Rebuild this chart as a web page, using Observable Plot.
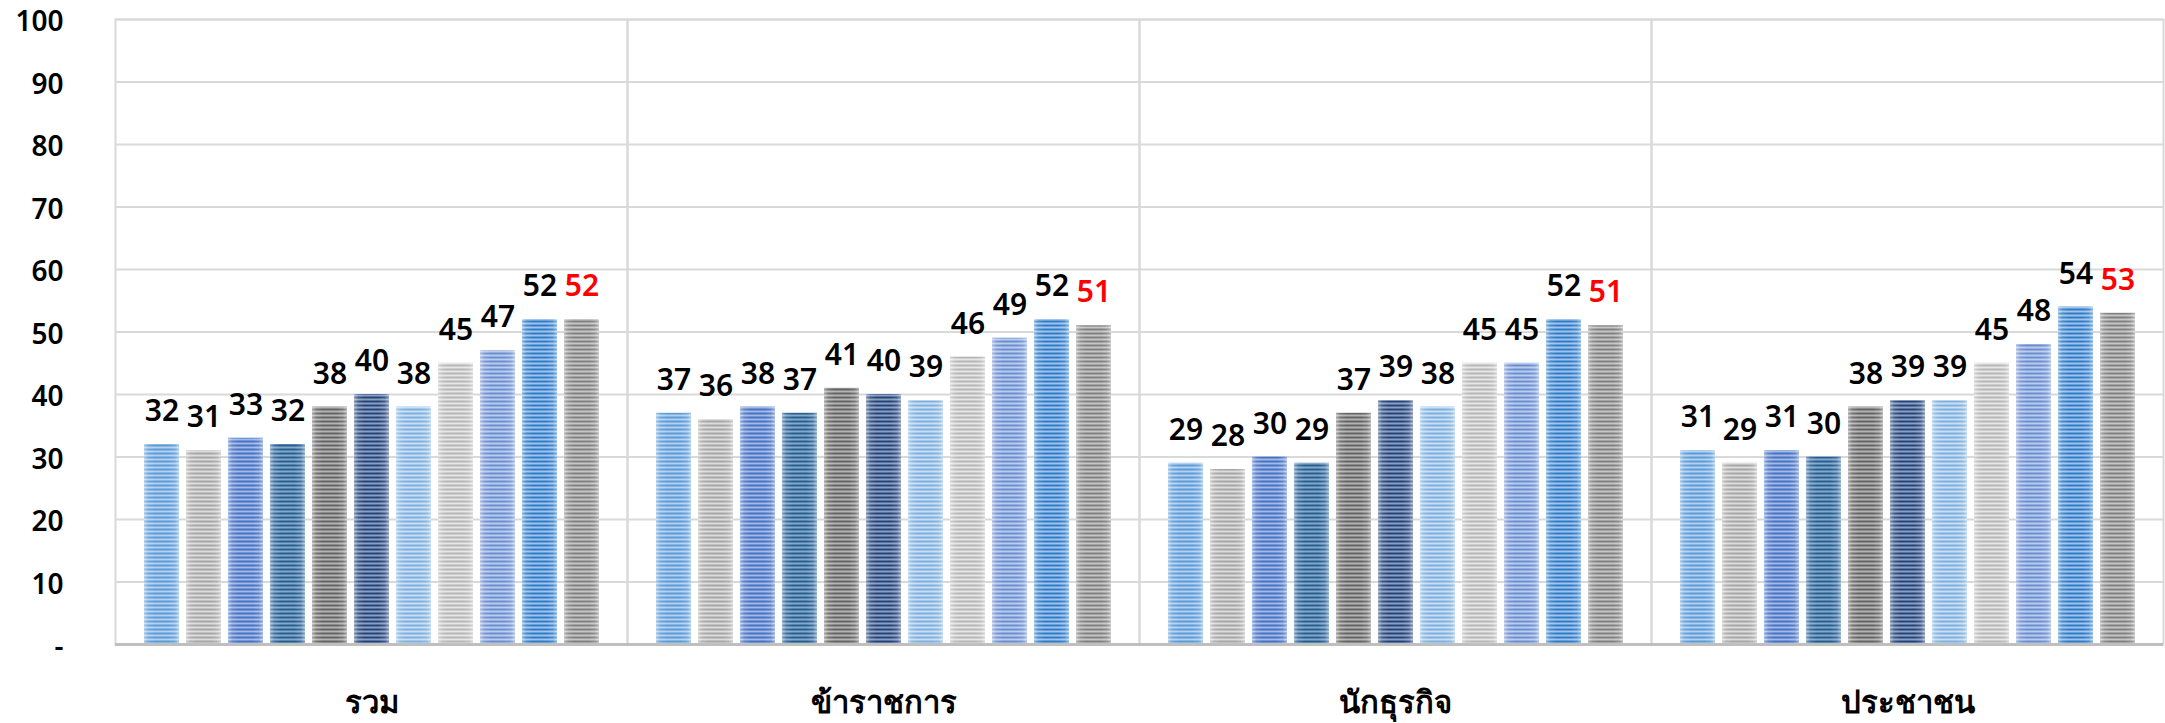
<!DOCTYPE html>
<html>
<head>
<meta charset="utf-8">
<script src="https://cdn.jsdelivr.net/npm/d3@7"></script>
<script src="https://cdn.jsdelivr.net/npm/@observablehq/plot@0.6"></script>
<style>
  html, body { margin: 0; padding: 0; background: #fff; }
  #chart { width: 2165px; height: 723px; overflow: hidden; }
  svg { font-family: "Noto Sans", "Open Sans", sans-serif; }
</style>
</head>
<body>
<div id="chart"></div>
<script>
// ---- data ----
const categories = ["รวม", "ข้าราชการ", "นักธุรกิจ", "ประชาชน"];
const seriesIndex = [0, 1, 2, 3, 4, 5, 6, 7, 8, 9, 10];
const valuesTotal       = [32, 31, 33, 32, 38, 40, 38, 45, 47, 52, 52];
const valuesOfficials   = [37, 36, 38, 37, 41, 40, 39, 46, 49, 52, 51];
const valuesBusiness    = [29, 28, 30, 29, 37, 39, 38, 45, 45, 52, 51];
const valuesPublic      = [31, 29, 31, 30, 38, 39, 39, 45, 48, 54, 53];
const yTicks = [0, 10, 20, 30, 40, 50, 60, 70, 80, 90, 100];

// stripe colours per series: [dark stripe, light stripe]
const stripeDark  = ["#5b9bd5", "#a5a5a5", "#4472c4", "#255e91", "#636363", "#264478", "#7cafdd", "#b5b5b5", "#698ed0", "#2f7bc6", "#7f7f7f"];
const stripeLight = ["#b3d1ee", "#dcdcdc", "#a3b8e4", "#86a9cb", "#b4b4b4", "#8b9fc4", "#c8def2", "#e6e6e6", "#bccbeb", "#9fc4ec", "#c6c6c6"];

const allValues = [valuesTotal, valuesOfficials, valuesBusiness, valuesPublic];
const data = [];
categories.forEach((c, ci) => {
  seriesIndex.forEach((s) => data.push({cat: c, s, v: allValues[ci][s]}));
});

const W = 2165, H = 723;
const fontMain = "'Noto Sans', 'Open Sans', sans-serif";

const chart = Plot.plot({
  width: W,
  height: H,
  marginLeft: 115,
  marginRight: 2,
  marginTop: 19,
  marginBottom: 79,
  style: {fontFamily: fontMain, background: "#fff"},
  fx: {domain: categories, padding: 0, label: null},
  x: {domain: seriesIndex, paddingInner: 0.17, paddingOuter: 0.68, axis: null},
  y: {domain: [0, 100], label: null},
  color: {type: "ordinal", domain: seriesIndex, range: seriesIndex.map(i => `url(#stripe${i})`)},
  marks: [
    Plot.gridY(yTicks.slice(1), {stroke: "#d9d9d9", strokeOpacity: 1, strokeWidth: 2}),
    Plot.frame({stroke: "#d9d9d9", strokeWidth: 2}),
    Plot.barY(data, {fx: "cat", x: "s", y: "v", fill: "s"}),
    Plot.barY(data, {fx: "cat", x: "s", y: "v", fill: "url(#edgeGlow)"}),
    Plot.ruleY([0], {stroke: "#bfbfbf", strokeWidth: 3}),
    Plot.text(data, {filter: d => d.s < 10, fx: "cat", x: "s", y: "v", text: d => String(d.v), dy: -33, fill: "#000", fontSize: 30, fontWeight: 600}),
    Plot.text(data, {filter: d => d.s === 10, fx: "cat", x: "s", y: "v", text: d => String(d.v), dy: -33, fill: "#ff0000", fontSize: 30, fontWeight: 600}),
    Plot.axisY({ticks: yTicks, tickFormat: d => d === 0 ? "-" : String(d), tickSize: 0, tickPadding: 52, fontSize: 28, fontWeight: 600, dy: 3, label: null}),
    Plot.axisFx({anchor: "bottom", tickSize: 0, tickPadding: 46, fontSize: 31, fontWeight: 700, label: null})
  ]
});

// pattern definitions
const svg = d3.select(chart);
const defs = svg.insert("defs", ":first-child");
seriesIndex.forEach(i => {
  const p = defs.append("pattern")
    .attr("id", `stripe${i}`)
    .attr("patternUnits", "userSpaceOnUse")
    .attr("width", 8).attr("height", 4)
    .attr("y", 0.5);
  p.append("rect").attr("width", 8).attr("height", 4).attr("fill", stripeLight[i]);
  p.append("rect").attr("width", 8).attr("height", 2).attr("fill", stripeDark[i]);
});
const g = defs.append("linearGradient").attr("id", "edgeGlow")
  .attr("x1", "0").attr("x2", "1").attr("y1", "0").attr("y2", "0");
[[0, 0.45], [0.12, 0.12], [0.3, 0], [0.7, 0], [0.88, 0.12], [1, 0.45]].forEach(([o, a]) => {
  g.append("stop").attr("offset", o).attr("stop-color", "#fff").attr("stop-opacity", a);
});

document.getElementById("chart").appendChild(chart);
</script>
</body>
</html>
